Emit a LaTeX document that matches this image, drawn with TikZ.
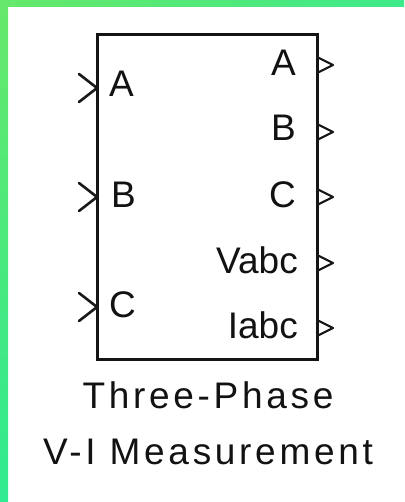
\documentclass[tikz,border=0pt]{standalone}
\usepackage{fontspec}
\setmainfont{Liberation Sans}
\newfontfamily\capfont[LetterSpace=10]{Liberation Sans}
\begin{document}
\begin{tikzpicture}[x=1pt,y=-1pt,
  portlabel/.style={inner sep=0pt, font=\fontsize{37}{40}\selectfont, text=black!93},
  caption/.style={inner sep=0pt, font=\capfont\fontsize{37}{40}\selectfont, text=black!93},
  inport/.style={line width=2.6pt, line cap=round, line join=miter, black!90},
  outport/.style={line width=2.2pt, line join=round, black!90},
  block/.style={draw=black!92, line width=3pt, fill=white, inner sep=0pt}]
  \useasboundingbox (0,0) rectangle (404,502);
  \fill[white] (0,0) rectangle (404,502);
  % green frame along the top and left edges
  \shade[left color={rgb,255:red,102;green,232;blue,106}, right color={rgb,255:red,62;green,234;blue,138}] (0,0) rectangle (404,7);
  \shade[top color={rgb,255:red,102;green,232;blue,106}, bottom color={rgb,255:red,46;green,234;blue,144}] (0,0) rectangle (8,502);

  % block body
  \node[block, minimum width=220pt, minimum height=324pt] (blk) at (207,197) {};

  % input ports (left side)
  \foreach \n/\y in {inA/88, inB/197, inC/307} {
    \coordinate (\n) at (97,\y);
    \draw[inport] ([shift={(-18,-14)}]\n) -- (\n) -- ([shift={(-18,14)}]\n);
  }
  % output ports (right side)
  \foreach \n/\y in {outA/65, outB/132, outC/197, outV/263, outI/328} {
    \coordinate (\n) at (317,\y);
    \draw[outport] ([shift={(0,-8)}]\n) -- ([shift={(16,0)}]\n) -- ([shift={(0,8)}]\n);
  }

  % port labels
  \node[portlabel, anchor=base west] (lA) at (109,97) {A};
  \node[portlabel, anchor=base west] (lB) at (111,208) {B};
  \node[portlabel, anchor=base west] (lC) at (109,317) {C};
  \node[portlabel, anchor=base east] (rA) at (296,76) {A};
  \node[portlabel, anchor=base east] (rB) at (296,141) {B};
  \node[portlabel, anchor=base east] (rC) at (296,208) {C};
  \node[portlabel, anchor=base east] (rV) at (298,273) {Vabc};
  \node[portlabel, anchor=base east] (rI) at (298,338) {Iabc};

  % block name
  \node[caption, anchor=base] (cap1) at (208,408) {Three-Phase};
  \node[caption, anchor=base] (cap2) at (208,464) {V-I Measurement};
\end{tikzpicture}
\end{document}
